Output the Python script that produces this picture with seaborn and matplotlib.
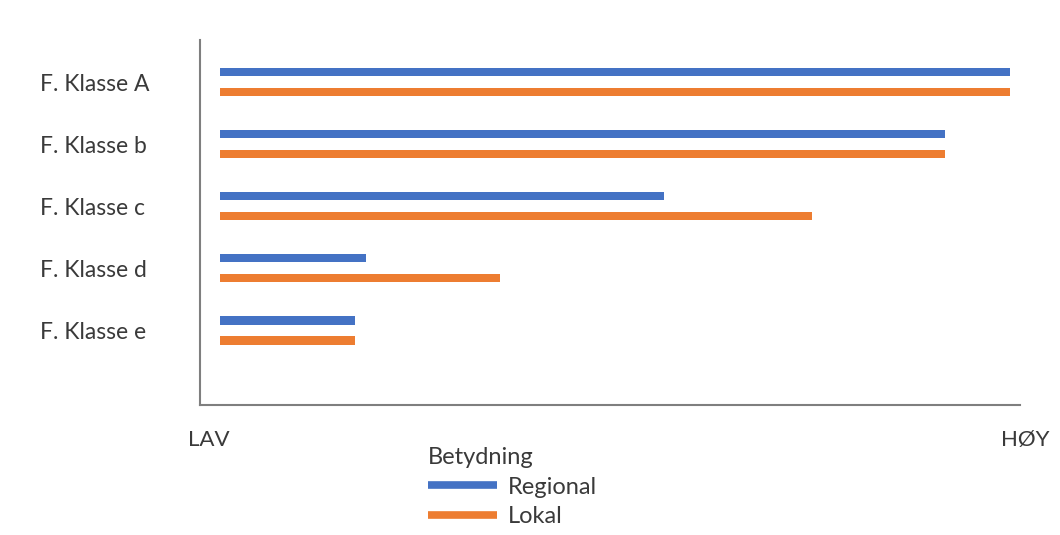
import matplotlib
matplotlib.use("Agg")
import matplotlib.pyplot as plt
import seaborn as sns
import pandas as pd
from matplotlib.lines import Line2D

categories = ["F. Klasse A", "F. Klasse b", "F. Klasse c", "F. Klasse d", "F. Klasse e"]
regional = [100.0, 91.8, 56.2, 18.5, 17.1]
lokal = [100.0, 91.8, 74.9, 35.4, 17.1]
series = ["Regional", "Lokal"]
colors = ["#4472C4", "#ED7D31"]
axis_labels = ["LAV", "HØY"]
legend_title = "Betydning"

df = pd.DataFrame({
    "Klasse": categories * 2,
    "Verdi": regional + lokal,
    "Serie": [series[0]] * len(categories) + [series[1]] * len(categories),
})

sns.set_theme(style="white")
plt.rcParams["font.family"] = ["Lato", "DejaVu Sans"]
text_color = "#3a3a3a"

fig = plt.figure(figsize=(10.6, 5.35), dpi=100)
ax = fig.add_axes([200 / 1060, 1 - 405 / 535, 820 / 1060, 365 / 535])

sns.barplot(data=df, y="Klasse", x="Verdi", hue="Serie", order=categories,
            hue_order=series, palette=colors, orient="h", width=0.645,
            legend=False, ax=ax, saturation=1)

# thin bars, keep centers
bar_h = 0.13
for p in ax.patches:
    c = p.get_y() + p.get_height() / 2
    p.set_height(bar_h)
    p.set_y(c - bar_h / 2)
    p.set_edgecolor("none")

ax.set_xlim(-2.53, 101.27)
ax.set_ylim(5.2, -0.68)
ax.set_xlabel("")
ax.set_ylabel("")
ax.set_xticks([])

for s in ["top", "right"]:
    ax.spines[s].set_visible(False)
for s in ["left", "bottom"]:
    ax.spines[s].set_color("#7f7f7f")
    ax.spines[s].set_linewidth(1.5)

ax.tick_params(axis="y", length=0, pad=115, labelsize=16.5, labelcolor=text_color)
for t in ax.get_yticklabels():
    t.set_horizontalalignment("left")

fig.text(209 / 1060, 1 - 440 / 535, axis_labels[0], ha="center", va="center",
         fontsize=16, color=text_color)
fig.text(1025 / 1060, 1 - 440 / 535, axis_labels[1], ha="center", va="center",
         fontsize=16, color=text_color)

handles = [Line2D([0], [0], color=colors[0], lw=5.5, solid_capstyle="butt"),
           Line2D([0], [0], color=colors[1], lw=5.5, solid_capstyle="butt")]
leg = fig.legend(handles, series, title=legend_title, loc="upper left",
                 bbox_to_anchor=(428 / 1060, 1 - 447 / 535), frameon=False,
                 fontsize=17, title_fontsize=17, handlelength=2.92,
                 handletextpad=0.47, labelspacing=0.36, borderpad=0,
                 borderaxespad=0, alignment="left")
for t in leg.get_texts():
    t.set_color(text_color)
leg.get_title().set_color(text_color)

fig.savefig("out.png", dpi=100)
